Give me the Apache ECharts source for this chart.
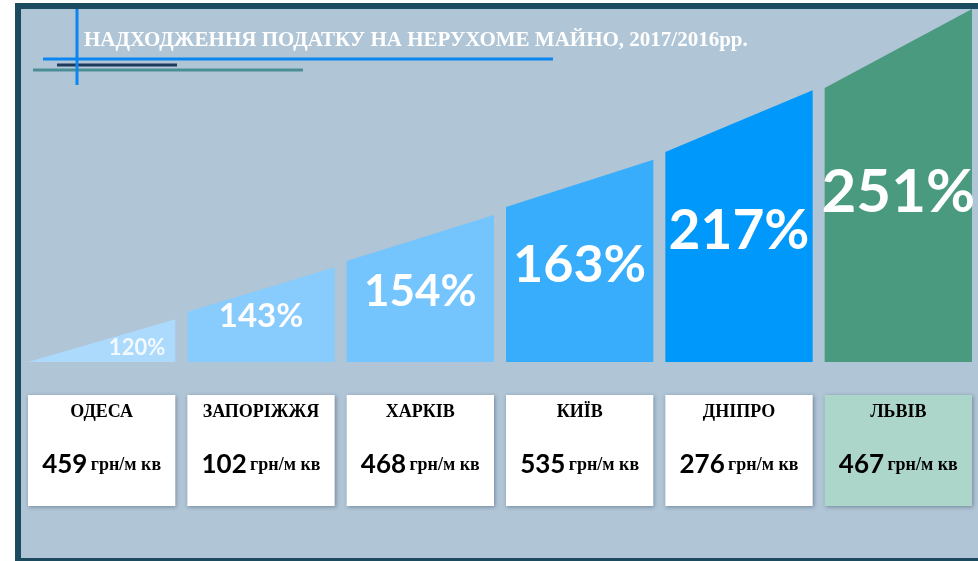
<!DOCTYPE html>
<html><head><meta charset="utf-8">
<script src="https://cdn.jsdelivr.net/npm/echarts@6/dist/echarts.min.js"></script>
<style>html,body{margin:0;padding:0;background:#fff;}#c{width:978px;height:561px;}</style>
</head><body><div id="c"></div>
<script>
// ---- data ----
const cities = ['ОДЕСА', 'ЗАПОРІЖЖЯ', 'ХАРКІВ', 'КИЇВ', 'ДНІПРО', 'ЛЬВІВ'];
const growthPct = [120, 143, 154, 163, 217, 251];
const pricePerSqm = [459, 102, 468, 535, 276, 467];
const titleText = 'НАДХОДЖЕННЯ ПОДАТКУ НА НЕРУХОМЕ МАЙНО, 2017/2016рр.';
const unitText = 'грн/м кв';

// ---- decoration / styles ----
const rampLeft = [0, 14.1, 28.5, 43.8, 59.3, 77.4];
const rampRight = [12.1, 26.8, 41.5, 57.1, 76.8, 99.7];
const barColors = ['#acdafc', '#88cbfd', '#74c4fd', '#38adfc', '#0098fa', '#4a9a80'];
const labelSizes = [22, 33, 44, 52, 55, 60];
const boxColors = ['#ffffff', '#ffffff', '#ffffff', '#ffffff', '#ffffff', '#acd6ca'];
const NUM_FONT = 'Lato';
const SERIF = '"Liberation Serif", "DejaVu Serif", serif';

const chart = echarts.init(document.getElementById('c'), null, {renderer: 'canvas'});

function renderBar(params, api) {
  const i = api.value(0);
  const c = api.coord([i, 0]);
  const band = api.size([1, 0])[0];
  const w = band - 12;
  const x0 = c[0] - w / 2, x1 = c[0] + w / 2;
  const yb = c[1];
  const L = api.value(1), R = api.value(2);
  const yl = api.coord([i, L])[1];
  const yr = api.coord([i, R])[1];
  const tri = L === 0;
  const lx = tri ? x0 + w * 0.74 : c[0];
  const ly = api.coord([i, R * (tri ? 0.33 : 0.48)])[1];
  return {
    type: 'group',
    children: [
      {type: 'polygon', shape: {points: [[x0, yb], [x0, yl], [x1, yr], [x1, yb]]}, style: {fill: barColors[i]}},
      {type: 'text', style: {text: api.value(3) + '%', x: lx, y: ly, fill: tri ? '#f2f9ff' : '#ffffff',
        fontSize: labelSizes[i], fontWeight: 'bold', fontFamily: NUM_FONT, align: 'center', verticalAlign: 'middle'}}
    ]
  };
}

function renderBox(params, api) {
  const i = api.value(0);
  const top = api.coord([i, 1]);
  const bot = api.coord([i, 0]);
  const band = api.size([1, 0])[0];
  const w = band - 12;
  const x0 = top[0] - w / 2;
  return {
    type: 'group',
    children: [
      {type: 'rect', shape: {x: x0, y: top[1], width: w, height: bot[1] - top[1]},
        style: {fill: boxColors[i], shadowBlur: 4, shadowColor: 'rgba(40,60,80,0.45)', shadowOffsetX: 1, shadowOffsetY: 1}},
      {type: 'text', style: {text: cities[i], x: top[0], y: top[1] + 17, fill: '#000',
        fontSize: 18, fontWeight: 'bold', fontFamily: SERIF, align: 'center', verticalAlign: 'middle'}},
      {type: 'text', style: {text: '{n|' + api.value(1) + '} {u|' + unitText + '}', x: top[0], y: top[1] + 70,
        align: 'center', verticalAlign: 'middle',
        rich: {
          n: {fontSize: 26, fontWeight: 'bold', fontFamily: NUM_FONT, fill: '#000', color: '#000'},
          u: {fontSize: 18, fontWeight: 'bold', fontFamily: SERIF, fill: '#000', color: '#000'}
        }}}
    ]
  };
}

const option = {
  backgroundColor: '#ffffff',
  animation: false,
  grid: [
    {left: 22, right: 0, top: 8, height: 354},
    {left: 22, right: 0, top: 395, height: 111}
  ],
  xAxis: [
    {type: 'category', data: cities, gridIndex: 0, show: false},
    {type: 'category', data: cities, gridIndex: 1, show: false}
  ],
  yAxis: [
    {type: 'value', min: 0, max: 100, gridIndex: 0, show: false},
    {type: 'value', min: 0, max: 1, gridIndex: 1, show: false}
  ],
  graphic: [
    {type: 'rect', z: 0, shape: {x: 18, y: 6, width: 985, height: 555},
      style: {fill: '#b0c5d6', stroke: '#1c4a5e', lineWidth: 6}},
    {type: 'line', z: 1, shape: {x1: 33, y1: 70, x2: 303, y2: 70}, style: {stroke: '#4a8f96', lineWidth: 3}},
    {type: 'line', z: 1, shape: {x1: 57, y1: 65, x2: 177, y2: 65}, style: {stroke: '#1f3a5c', lineWidth: 3}},
    {type: 'line', z: 1, shape: {x1: 43, y1: 59, x2: 553, y2: 59}, style: {stroke: '#0b85f0', lineWidth: 3}},
    {type: 'line', z: 1, shape: {x1: 77, y1: 9, x2: 77, y2: 85}, style: {stroke: '#0b85f0', lineWidth: 3}},
    {type: 'text', z: 5, style: {text: titleText, x: 84, y: 41, fill: '#ffffff', fontSize: 21,
      fontWeight: 'bold', fontFamily: SERIF, align: 'left', verticalAlign: 'middle'}}
  ],
  series: [
    {
      type: 'custom', xAxisIndex: 0, yAxisIndex: 0, z: 3,
      renderItem: renderBar,
      data: cities.map((c, i) => [i, rampLeft[i], rampRight[i], growthPct[i]])
    },
    {
      type: 'custom', xAxisIndex: 1, yAxisIndex: 1, z: 3,
      renderItem: renderBox,
      data: cities.map((c, i) => [i, pricePerSqm[i]])
    }
  ]
};
chart.setOption(option);
</script>
</body></html>
